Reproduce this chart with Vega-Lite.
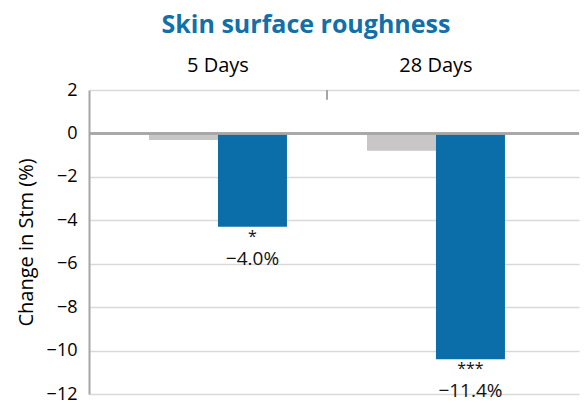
{
  "$schema": "https://vega.github.io/schema/vega-lite/v6.json",
  "autosize": {"type": "none"},
  "width": 490,
  "height": 304,
  "padding": {"left": 89, "top": 90, "right": 5, "bottom": 9},
  "config": {
    "font": "Open Sans",
    "view": {"stroke": null},
    "background": "white"
  },
  "title": {
    "text": "Skin surface roughness",
    "fontSize": 25,
    "fontWeight": "bold",
    "color": "#1170aa",
    "font": "Open Sans",
    "anchor": "middle",
    "dx": -28,
    "offset": 17
  },
  "datasets": {
    "bars": [
      {"period": "5 Days", "group": "control", "value": -0.3},
      {"period": "5 Days", "group": "treated", "value": -4.3},
      {"period": "28 Days", "group": "control", "value": -0.8},
      {"period": "28 Days", "group": "treated", "value": -10.4}
    ],
    "labels": [
      {"period": "5 Days", "group": "treated", "value": -4.3, "stars": "*", "pct": "−4.0%"},
      {"period": "28 Days", "group": "treated", "value": -10.4, "stars": "***", "pct": "−11.4%"}
    ],
    "sep": [{"period": "28 Days", "top": 2, "bottom": 1.55}]
  },
  "layer": [
    {
      "data": {"name": "bars"},
      "mark": {"type": "bar"},
      "encoding": {
        "x": {
          "field": "period",
          "type": "nominal",
          "scale": {"domain": ["5 Days", "28 Days"], "paddingInner": 0, "paddingOuter": 0.1239, "align": 0.37},
          "axis": {
            "orient": "top",
            "title": null,
            "domain": false,
            "ticks": false,
            "labelAngle": 0,
            "labelFontSize": 20,
            "labelColor": "#000000",
            "labelPadding": 15
          }
        },
        "xOffset": {
          "field": "group",
          "type": "nominal",
          "scale": {"domain": ["control", "treated"], "paddingInner": 0, "paddingOuter": 0.58}
        },
        "y": {
          "field": "value",
          "type": "quantitative",
          "scale": {"domain": [-12, 2], "nice": false, "zero": false},
          "axis": {
            "values": [-12, -10, -8, -6, -4, -2, 0, 2],
            "grid": true,
            "gridColor": "#d9d9d9",
            "gridWidth": 1.5,
            "domainColor": "#a6a6a6",
            "domainWidth": 2,
            "ticks": false,
            "labelFontSize": 18,
            "labelColor": "#000000",
            "labelPadding": 12,
            "title": "Change in Stm (%)",
            "titleFontSize": 20,
            "titleFontWeight": "normal",
            "titleColor": "#000000",
            "titlePadding": 10
          }
        },
        "color": {
          "field": "group",
          "type": "nominal",
          "scale": {"domain": ["control", "treated"], "range": ["#c8c6c7", "#0b6ea8"]},
          "legend": null
        }
      }
    },
    {
      "data": {"name": "bars"},
      "mark": {"type": "rule", "color": "#a6a6a6", "strokeWidth": 2},
      "encoding": {"y": {"datum": 0}}
    },
    {
      "data": {"name": "labels"},
      "mark": {"type": "text", "baseline": "middle", "dy": 10, "fontSize": 16, "color": "#111111"},
      "encoding": {
        "x": {"field": "period", "type": "nominal"},
        "xOffset": {"field": "group", "type": "nominal"},
        "y": {"field": "value", "type": "quantitative"},
        "text": {"field": "stars"}
      }
    },
    {
      "data": {"name": "labels"},
      "mark": {"type": "text", "baseline": "alphabetic", "dy": 38, "fontSize": 19, "color": "#111111"},
      "encoding": {
        "x": {"field": "period", "type": "nominal"},
        "xOffset": {"field": "group", "type": "nominal"},
        "y": {"field": "value", "type": "quantitative"},
        "text": {"field": "pct"}
      }
    },
    {
      "data": {"name": "sep"},
      "mark": {"type": "rule", "color": "#a6a6a6", "strokeWidth": 2},
      "encoding": {
        "x": {"field": "period", "type": "nominal", "bandPosition": 0},
        "y": {"field": "top", "type": "quantitative"},
        "y2": {"field": "bottom"}
      }
    }
  ]
}
